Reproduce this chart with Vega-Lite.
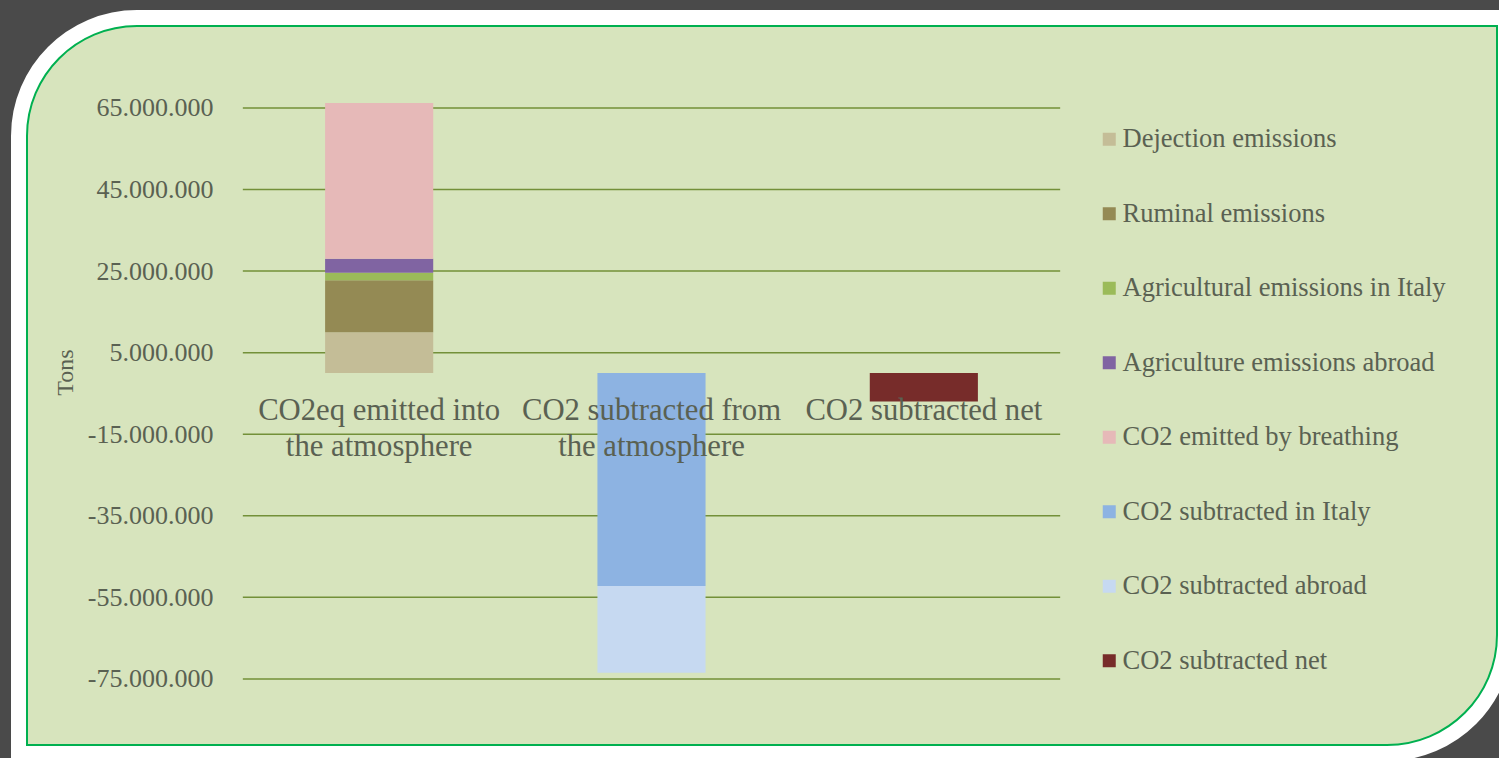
{
  "$schema": "https://vega.github.io/schema/vega-lite/v6.json",
  "width": 1470,
  "height": 719,
  "autosize": "none",
  "padding": {"left": 27, "top": 26, "right": 2, "bottom": 13},
  "background": "#4a4a4a",
  "config": {"view": {"stroke": null}, "font": "Liberation Serif"},
  "datasets": {
    "bars": [
      {"category": "CO2eq emitted into the atmosphere", "series": "Dejection emissions", "value": 10000000},
      {"category": "CO2eq emitted into the atmosphere", "series": "Ruminal emissions", "value": 12750000},
      {"category": "CO2eq emitted into the atmosphere", "series": "Agricultural emissions in Italy", "value": 1850000},
      {"category": "CO2eq emitted into the atmosphere", "series": "Agriculture emissions abroad", "value": 3400000},
      {"category": "CO2eq emitted into the atmosphere", "series": "CO2 emitted by breathing", "value": 38200000},
      {"category": "CO2 subtracted from the atmosphere", "series": "CO2 subtracted in Italy", "value": -52200000},
      {"category": "CO2 subtracted from the atmosphere", "series": "CO2 subtracted abroad", "value": -21260000},
      {"category": "CO2 subtracted net", "series": "CO2 subtracted net", "value": -7000000}
    ],
    "grid": [
      {"tick": 65000000}, {"tick": 45000000}, {"tick": 25000000}, {"tick": 5000000},
      {"tick": -15000000}, {"tick": -35000000}, {"tick": -55000000}, {"tick": -75000000}
    ]
  },
  "layer": [
    {
      "data": {"values": [{}]},
      "mark": {"type": "rect", "filled": false, "stroke": "#ffffff", "strokeWidth": 32, "cornerRadiusTopLeft": 110, "cornerRadiusBottomRight": 110},
      "encoding": {"x": {"value": 0}, "x2": {"value": "width"}, "y": {"value": 0}, "y2": {"value": "height"}}
    },
    {
      "data": {"values": [{}]},
      "mark": {"type": "rect", "fill": "#d7e4bd", "stroke": "#00b050", "strokeWidth": 2, "cornerRadiusTopLeft": 110, "cornerRadiusBottomRight": 110},
      "encoding": {"x": {"value": 0}, "x2": {"value": "width"}, "y": {"value": 0}, "y2": {"value": "height"}}
    },
    {
      "data": {"name": "grid"},
      "mark": {"type": "rule", "color": "#739039", "strokeWidth": 1.5},
      "encoding": {
        "y": {"field": "tick", "type": "quantitative"},
        "x": {"datum": "CO2eq emitted into the atmosphere", "type": "nominal", "bandPosition": -0.761},
        "x2": {"datum": "CO2 subtracted net", "bandPosition": 1.761}
      }
    },
    {
      "data": {"name": "bars"},
      "transform": [
        {"calculate": "indexof(['Dejection emissions', 'Ruminal emissions', 'Agricultural emissions in Italy', 'Agriculture emissions abroad', 'CO2 emitted by breathing', 'CO2 subtracted in Italy', 'CO2 subtracted abroad', 'CO2 subtracted net'], datum.series)", "as": "stack_order"}
      ],
      "mark": {"type": "bar"},
      "encoding": {
        "x": {
          "field": "category", "type": "nominal",
          "sort": ["CO2eq emitted into the atmosphere", "CO2 subtracted from the atmosphere", "CO2 subtracted net"],
          "scale": {
            "domain": ["CO2eq emitted into the atmosphere", "CO2 subtracted from the atmosphere", "CO2 subtracted net"],
            "range": [216, 1033], "paddingInner": 0.603, "paddingOuter": 0.3015
          },
          "axis": {
            "orient": "bottom", "offset": -372, "title": null, "domain": false, "ticks": false, "grid": false,
            "bandPosition": 0.5,
            "labelAngle": 0, "labelAlign": "center", "labelBaseline": "top",
            "labelFontSize": 30.7, "labelLineHeight": 36, "labelPadding": 22,
            "labelColor": "#5a6152", "labelFont": "Liberation Serif", "labelLimit": 0, "labelOverlap": false,
            "labelExpr": "datum.value == 'CO2eq emitted into the atmosphere' ? ['CO2eq emitted into', 'the atmosphere'] : datum.value == 'CO2 subtracted from the atmosphere' ? ['CO2 subtracted from', 'the atmosphere'] : datum.label",
            "zindex": 1
          }
        },
        "y": {
          "field": "value", "type": "quantitative", "stack": "zero",
          "scale": {"domain": [-91200000, 85100000], "nice": false, "zero": false},
          "axis": {
            "title": "Tons", "values": [65000000, 45000000, 25000000, 5000000, -15000000, -35000000, -55000000, -75000000],
            "grid": false, "domain": false, "ticks": false, "offset": -186, "labelPadding": 0,
            "labelFontSize": 26, "labelColor": "#5a6152", "labelFont": "Liberation Serif",
            "labelExpr": "(datum.value < 0 ? '-' : '') + replace(format(abs(datum.value), ','), regexp(',', 'g'), '.')",
            "titleFontSize": 24, "titleFont": "Liberation Serif", "titleFontWeight": "normal", "titleColor": "#5a6152",
            "titleX": -141, "titleY": 346, "titleAngle": -90, "titleAlign": "center", "titleBaseline": "alphabetic",
            "zindex": 1
          }
        },
        "order": {"field": "stack_order", "type": "quantitative", "sort": "ascending"},
        "color": {
          "field": "series", "type": "nominal",
          "sort": ["Dejection emissions", "Ruminal emissions", "Agricultural emissions in Italy", "Agriculture emissions abroad", "CO2 emitted by breathing", "CO2 subtracted in Italy", "CO2 subtracted abroad", "CO2 subtracted net"],
          "scale": {
            "domain": ["Dejection emissions", "Ruminal emissions", "Agricultural emissions in Italy", "Agriculture emissions abroad", "CO2 emitted by breathing", "CO2 subtracted in Italy", "CO2 subtracted abroad", "CO2 subtracted net"],
            "range": ["#c4bd97", "#948a54", "#9bbb59", "#8064a2", "#e6b9b8", "#8db3e2", "#c6d9f1", "#772c2a"]
          },
          "legend": {
            "title": null, "orient": "none", "legendX": 1069, "legendY": 100,
            "symbolType": "square", "symbolSize": 169, "symbolStrokeWidth": 0,
            "labelFontSize": 26.5, "labelFont": "Liberation Serif", "labelColor": "#5a6152",
            "rowPadding": 47.5, "labelOffset": 0, "padding": 0, "labelLimit": 0
          }
        }
      }
    }
  ]
}
